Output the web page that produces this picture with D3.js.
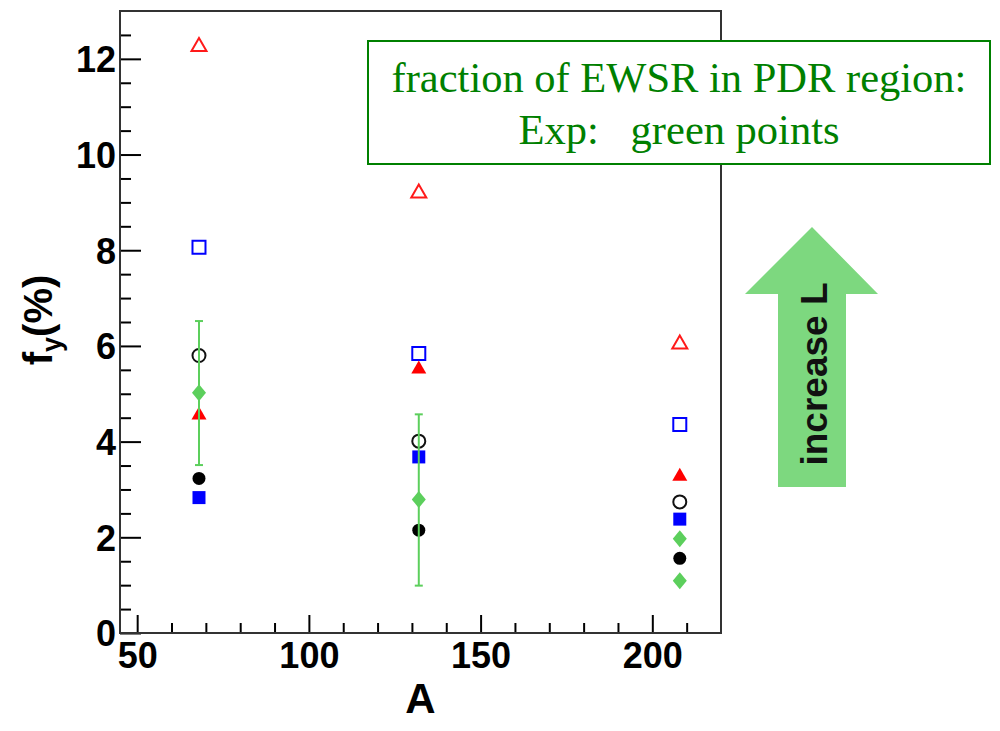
<!DOCTYPE html>
<html lang="en">
<head>
    <meta charset="UTF-8">
    <title>Fraction of EWSR in PDR region</title>
    <script src="https://d3js.org/d3.v7.min.js"></script>
    <style>
        body {
            margin: 0;
            background: #fff;
        }
        .tick text {
            font-family: "Liberation Sans", Arial, Helvetica, sans-serif;
            font-weight: bold;
            font-size: 36px;
            fill: #000;
        }
        .tick line {
            stroke: #000;
            stroke-width: 2;
        }
    </style>
</head>
<body>
    <div id="chart"></div>

    <script>
        // mass numbers of the three nuclei
        const massNumbers = [68, 132, 208];

        // calculated fractions (%) for the different L values
        const openTriangle = [12.3, 9.24, 6.08];
        const openSquare = [8.06, 5.84, 4.36];
        const openCircle = [5.8, 4.01, 2.74];
        const fullTriangle = [4.6, 5.56, 3.32];
        const fullCircle = [3.23, 2.15, 1.56];
        const fullSquare = [2.83, 3.68, 2.38];

        // experimental points (green diamonds)
        const expA = [68, 132, 208, 208];
        const expValue = [5.02, 2.79, 1.97, 1.09];
        const expLow = [3.51, 0.99, null, null];
        const expHigh = [6.52, 4.57, null, null];

        // axis ticks
        const xMajorTicks = [50, 100, 150, 200];
        const xMinorTicks = [60, 70, 80, 90, 110, 120, 130, 140, 160, 170, 180, 190, 210];
        const yMajorTicks = [0, 2, 4, 6, 8, 10, 12];
        const yMinorTicks = [0.5, 1, 1.5, 2.5, 3, 3.5, 4.5, 5, 5.5, 6.5, 7, 7.5, 8.5, 9, 9.5, 10.5, 11, 11.5, 12.5];

        const width = 1000, height = 731;
        const frame = {left: 120, right: 721, top: 11, bottom: 633};

        const svg = d3.select("#chart")
            .append("svg")
              .attr("width", width)
              .attr("height", height);

        const x = d3.scaleLinear()
            .domain([45, 220])
            .range([frame.left, frame.right]);

        const y = d3.scaleLinear()
            .domain([0, 13])
            .range([frame.bottom, frame.top]);

        // X axis: major ticks with labels, minor ticks without
        svg.append("g")
            .attr("transform", `translate(0,${frame.bottom})`)
            .call(d3.axisBottom(x).tickValues(xMajorTicks).tickSize(-18).tickPadding(9).tickFormat(d3.format("d")))
            .call(g => g.select(".domain").remove());
        svg.append("g")
            .attr("transform", `translate(0,${frame.bottom})`)
            .call(d3.axisBottom(x).tickValues(xMinorTicks).tickSize(-10).tickFormat(""))
            .call(g => g.select(".domain").remove());

        // Y axis
        svg.append("g")
            .attr("transform", `translate(${frame.left},0)`)
            .call(d3.axisLeft(y).tickValues(yMajorTicks).tickSize(-21).tickPadding(4).tickFormat(d3.format("d")))
            .call(g => g.select(".domain").remove())
            .call(g => g.selectAll(".tick text").attr("dy", "0.36em"));
        svg.append("g")
            .attr("transform", `translate(${frame.left},0)`)
            .call(d3.axisLeft(y).tickValues(yMinorTicks).tickSize(-11).tickFormat(""))
            .call(g => g.select(".domain").remove());

        // Frame
        svg.append("rect")
            .attr("x", frame.left)
            .attr("y", frame.top)
            .attr("width", frame.right - frame.left)
            .attr("height", frame.bottom - frame.top)
            .attr("fill", "none")
            .attr("stroke", "#333")
            .attr("stroke-width", 2);

        // Axis titles
        svg.append("text")
            .attr("x", (frame.left + frame.right) / 2)
            .attr("y", 713)
            .attr("text-anchor", "middle")
            .style("font-family", "'Liberation Sans', Arial, sans-serif")
            .style("font-weight", "bold")
            .style("font-size", "42px")
            .text("A");

        const yTitle = svg.append("text")
            .attr("transform", "translate(52,320) rotate(-90)")
            .attr("text-anchor", "middle")
            .style("font-family", "'Liberation Sans', Arial, sans-serif")
            .style("font-weight", "bold")
            .style("font-size", "40px");
        yTitle.append("tspan").text("f");
        yTitle.append("tspan").attr("dy", 9).style("font-size", "27px").text("y");
        yTitle.append("tspan").attr("dy", -9).text("(%)");

        // Marker shapes
        const shapes = {
            triangle: "M0,-6.5L7.5,6.5L-7.5,6.5Z",
            square: "M-6.5,-6.5H6.5V6.5H-6.5Z",
            circle: d3.symbol(d3.symbolCircle, Math.PI * 6.5 * 6.5)(),
            diamond: "M0,-8.5L7,0L0,8.5L-7,0Z"
        };

        function drawSeries(values, shape, color, filled) {
            svg.append("g")
                .selectAll("path")
                .data(values)
                .join("path")
                  .attr("transform", (d, i) => `translate(${x(massNumbers[i])},${y(d)})`)
                  .attr("d", shapes[shape])
                  .attr("fill", filled ? color : "none")
                  .attr("stroke", color)
                  .attr("stroke-width", filled ? 0 : 2);
        }

        drawSeries(openTriangle, "triangle", "#ff1a1a", false);
        drawSeries(openSquare, "square", "#0000ff", false);
        drawSeries(openCircle, "circle", "#111", false);
        drawSeries(fullTriangle, "triangle", "#ff0000", true);
        drawSeries(fullCircle, "circle", "#000", true);
        drawSeries(fullSquare, "square", "#0000ff", true);

        // Experimental points with error bars
        const expColor = "#5ccf5c";
        const expData = expA.map((a, i) => ({a: a, v: expValue[i], lo: expLow[i], hi: expHigh[i]}));
        const bars = svg.append("g")
            .attr("stroke", expColor)
            .attr("stroke-width", 2)
            .selectAll("g")
            .data(expData.filter(d => d.lo !== null))
            .join("g");
        bars.append("line")
            .attr("x1", d => x(d.a)).attr("x2", d => x(d.a))
            .attr("y1", d => y(d.lo)).attr("y2", d => y(d.hi));
        bars.append("line")
            .attr("x1", d => x(d.a) - 4).attr("x2", d => x(d.a) + 4)
            .attr("y1", d => y(d.lo)).attr("y2", d => y(d.lo));
        bars.append("line")
            .attr("x1", d => x(d.a) - 4).attr("x2", d => x(d.a) + 4)
            .attr("y1", d => y(d.hi)).attr("y2", d => y(d.hi));

        svg.append("g")
            .selectAll("path")
            .data(expData)
            .join("path")
              .attr("transform", d => `translate(${x(d.a)},${y(d.v)})`)
              .attr("d", shapes.diamond)
              .attr("fill", expColor);

        // Legend box
        svg.append("rect")
            .attr("x", 368)
            .attr("y", 41)
            .attr("width", 622)
            .attr("height", 123)
            .attr("fill", "#fff")
            .attr("stroke", "#008000")
            .attr("stroke-width", 2);
        const legendLines = ["fraction of EWSR in PDR region:", "Exp:   green points"];
        svg.append("g")
            .selectAll("text")
            .data(legendLines)
            .join("text")
              .attr("x", 679)
              .attr("y", (d, i) => 92 + i * 51.5)
              .attr("text-anchor", "middle")
              .style("white-space", "pre")
              .style("font-family", "'Liberation Serif', 'Times New Roman', serif")
              .style("font-size", "42.5px")
              .attr("fill", "#008000")
              .text(d => d);

        // "increase L" arrow
        svg.append("path")
            .attr("d", "M812,227L878,294H846V487H778V294H745Z")
            .attr("fill", "#7dd87f");
        svg.append("text")
            .attr("transform", "translate(827,374) rotate(-90)")
            .attr("text-anchor", "middle")
            .style("font-family", "'Liberation Sans', Arial, sans-serif")
            .style("font-weight", "bold")
            .style("font-size", "37px")
            .attr("fill", "#111")
            .text("increase L");
    </script>
</body>
</html>
